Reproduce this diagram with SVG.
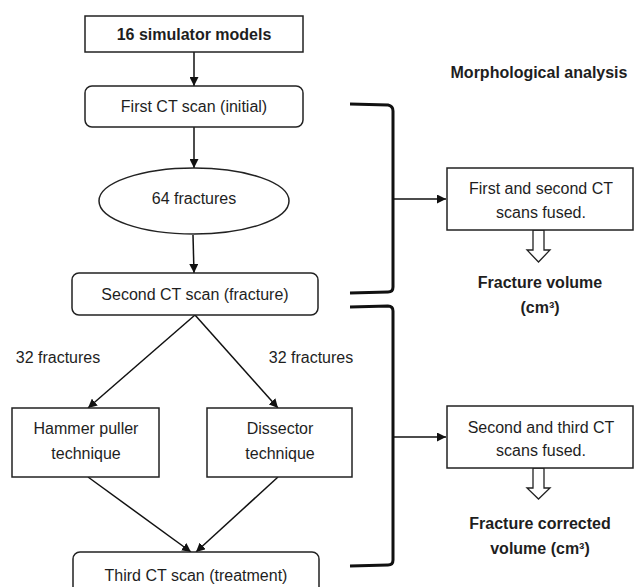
<svg xmlns="http://www.w3.org/2000/svg" width="634" height="587" viewBox="0 0 634 587">
<defs>
<style>
.box{fill:#fff;stroke:#222;stroke-width:1.5}
.t{font-family:"Liberation Sans",Arial,sans-serif;font-size:16px;fill:#1e1e1e;text-anchor:middle}
.b{font-weight:bold}
.ln{fill:none;stroke:#111;stroke-width:1.5}
.br{fill:none;stroke:#111;stroke-width:3}
.ho{fill:#fff;stroke:#222;stroke-width:1.3}
</style>
<marker id="ah" viewBox="0 0 10 10" refX="10" refY="5" markerWidth="9" markerHeight="9" markerUnits="userSpaceOnUse" orient="auto">
<path d="M0,0 L10,5 L0,10 Z" fill="#111"/>
</marker>
</defs>
<rect width="634" height="587" fill="#fff"/>
<g id="connectors">
<line class="ln" x1="194" y1="52" x2="194" y2="86" marker-end="url(#ah)"/>
<line class="ln" x1="194" y1="127" x2="194" y2="168" marker-end="url(#ah)"/>
<line class="ln" x1="193" y1="235" x2="194" y2="273" marker-end="url(#ah)"/>
<line class="ln" x1="195" y1="315" x2="88" y2="408" marker-end="url(#ah)"/>
<line class="ln" x1="195" y1="315" x2="278" y2="408" marker-end="url(#ah)"/>
<line class="ln" x1="88" y1="477" x2="191" y2="552" marker-end="url(#ah)"/>
<line class="ln" x1="278" y1="477" x2="196" y2="552" marker-end="url(#ah)"/>
<path class="br" d="M350,104 L388,105 Q393,106 393,111 L393,287 Q393,292 388,292 L350,293"/>
<line class="ln" x1="393" y1="199" x2="446" y2="199" marker-end="url(#ah)"/>
<path class="br" d="M350,307 L388,306 Q393,306 393,311 L393,560 Q393,565 388,565 L350,566"/>
<line class="ln" x1="393" y1="437" x2="446" y2="437" marker-end="url(#ah)"/>
<path class="ho" d="M533,230 L544,230 L544,250 L550,250 L538.5,262 L527,250 L533,250 Z"/>
<path class="ho" d="M533,468 L544,468 L544,488 L550,488 L538.5,499 L527,488 L533,488 Z"/>
</g>
<g id="n1"><rect class="box" x="85" y="16" width="218" height="36"/><text class="t b" x="194" y="40">16 simulator models</text></g>
<g id="n2"><rect class="box" x="85" y="86" width="218" height="41" rx="7"/><text class="t" x="194" y="112">First CT scan (initial)</text></g>
<g id="n3"><ellipse class="box" cx="194" cy="201" rx="95" ry="33"/><text class="t" x="194" y="204">64 fractures</text></g>
<g id="n4"><rect class="box" x="72" y="273" width="246" height="42" rx="7"/><text class="t" x="195" y="300">Second CT scan (fracture)</text></g>
<g id="l1"><text class="t" x="58" y="363">32 fractures</text></g>
<g id="l2"><text class="t" x="311" y="363">32 fractures</text></g>
<g id="n5"><rect class="box" x="12" y="408" width="147" height="69"/><text class="t" x="86" y="434">Hammer puller</text><text class="t" x="86" y="459">technique</text></g>
<g id="n6"><rect class="box" x="207" y="408" width="145" height="69"/><text class="t" x="280" y="434">Dissector</text><text class="t" x="280" y="459">technique</text></g>
<g id="n7"><rect class="box" x="73" y="552" width="246" height="45" rx="7"/><text class="t" x="196" y="581">Third CT scan (treatment)</text></g>
<g id="title"><text class="t b" x="539" y="78">Morphological analysis</text></g>
<g id="n8"><rect class="box" x="447" y="168" width="186" height="62"/><text class="t" x="541" y="194">First and second CT</text><text class="t" x="541" y="218">scans fused.</text></g>
<g id="r1"><text class="t b" x="540" y="288">Fracture volume</text><text class="t b" x="540" y="313">(cm³)</text></g>
<g id="n9"><rect class="box" x="447" y="406" width="186" height="62"/><text class="t" x="541" y="433">Second and third CT</text><text class="t" x="541" y="456">scans fused.</text></g>
<g id="r2"><text class="t b" x="540" y="529">Fracture corrected</text><text class="t b" x="540" y="554">volume (cm³)</text></g>
</svg>
